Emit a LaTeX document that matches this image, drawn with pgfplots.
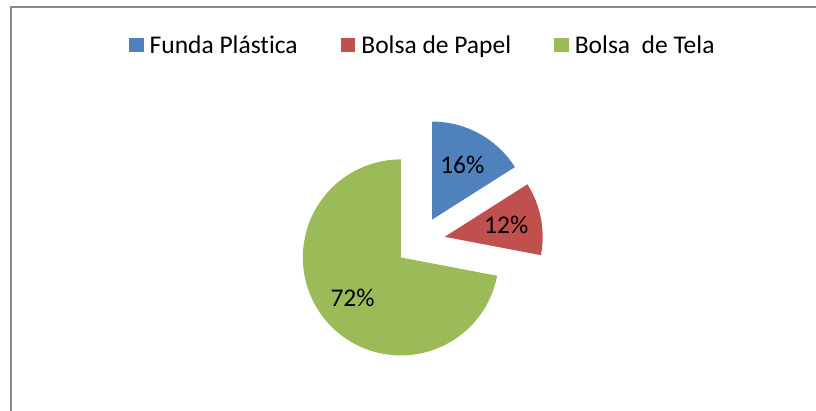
\documentclass[border=0pt]{standalone}
\usepackage{pgfplots}
\pgfplotsset{compat=1.18}
\usepackage{pgfplotstable}
\usepackage{fontspec}
\setmainfont{Carlito}[Ligatures={NoCommon}]
\definecolor{cBlue}{HTML}{4F81BD}
\definecolor{cRed}{HTML}{C0504D}
\definecolor{cGreen}{HTML}{9BBB59}
\definecolor{cFrame}{HTML}{8A8A8A}

\pgfplotstableread{
value
16
12
72
}\pietable

\begin{document}
\begin{tikzpicture}
\def\Cx{420.1}\def\Cy{168.5}\def\R{98}\def\E{25}\def\L{62.7}
\pgfplotstablegetelem{0}{value}\of\pietable \let\vA\pgfplotsretval
\pgfplotstablegetelem{1}{value}\of\pietable \let\vB\pgfplotsretval
\pgfplotstablegetelem{2}{value}\of\pietable \let\vC\pgfplotsretval
\pgfmathsetmacro\tot{\vA+\vB+\vC}
\pgfmathsetmacro\aA{90}
\pgfmathsetmacro\aB{\aA-360*(\vA/\tot)}
\pgfmathsetmacro\aC{\aB-360*(\vB/\tot)}
\pgfmathsetmacro\aD{\aC-360*(\vC/\tot)}
\pgfmathsetmacro\mA{(\aA+\aB)/2}
\pgfmathsetmacro\mB{(\aB+\aC)/2}
\pgfmathsetmacro\mC{(\aC+\aD)/2}
\pgfmathsetmacro\xA{\Cx+\E*cos(\mA)}\pgfmathsetmacro\yA{\Cy+\E*sin(\mA)}
\pgfmathsetmacro\xB{\Cx+\E*cos(\mB)}\pgfmathsetmacro\yB{\Cy+\E*sin(\mB)}
\pgfmathsetmacro\xC{\Cx+\E*cos(\mC)}\pgfmathsetmacro\yC{\Cy+\E*sin(\mC)}
\pgfmathsetmacro\lxA{\xA+\L*cos(\mA)}\pgfmathsetmacro\lyA{\yA+\L*sin(\mA)}
\pgfmathsetmacro\lxB{\xB+\L*cos(\mB)}\pgfmathsetmacro\lyB{\yB+\L*sin(\mB)}
\pgfmathsetmacro\lxC{\xC+\L*cos(\mC)}\pgfmathsetmacro\lyC{\yC+\L*sin(\mC)}
\pgfmathtruncatemacro\pA{round(100*(\vA/\tot))}
\pgfmathtruncatemacro\pB{round(100*(\vB/\tot))}
\pgfmathtruncatemacro\pC{round(100*(\vC/\tot))}
\begin{axis}[
  at={(0,0)}, anchor=south west,
  scale only axis, width=816pt, height=410pt,
  xmin=0, xmax=816, ymin=0, ymax=410,
  hide axis,
  legend columns=3,
  legend image code/.code={\fill[#1,draw=none] (0pt,-7pt) rectangle (14.5pt,7pt); \path (20.5pt,0pt);},
  legend style={at={(0.1581,0.89)}, anchor=west, draw=none, fill=none,
    inner sep=0pt, outer sep=0pt,
    nodes={inner sep=0pt, outer sep=0pt},
    font=\fontsize{25.5}{30}\selectfont,
    /tikz/every even column/.append style={column sep=43pt}},
]
\addlegendimage{fill=cBlue}
\addlegendentry{Funda Plástica}
\addlegendimage{fill=cRed}
\addlegendentry{Bolsa de Papel}
\addlegendimage{fill=cGreen}
\addlegendentry{Bolsa\ \ de Tela}

\fill[cBlue] (axis cs:\xA,\yA) -- ++(\aA:\R pt) arc[start angle=\aA, end angle=\aB, radius=\R pt] -- cycle;
\fill[cRed] (axis cs:\xB,\yB) -- ++(\aB:\R pt) arc[start angle=\aB, end angle=\aC, radius=\R pt] -- cycle;
\fill[cGreen] (axis cs:\xC,\yC) -- ++(\aC:\R pt) arc[start angle=\aC, end angle=\aD, radius=\R pt] -- cycle;

\node[font=\fontsize{25.5}{30}\selectfont] at (axis cs:\lxA,\lyA) {\pA\%};
\node[font=\fontsize{25.5}{30}\selectfont] at (axis cs:\lxB,\lyB) {\pB\%};
\node[font=\fontsize{25.5}{30}\selectfont] at (axis cs:\lxC,\lyC) {\pC\%};

\draw[cFrame, line width=2pt] (axis cs:11.3,-10) -- (axis cs:11.3,403) -- (axis cs:830,403);
\end{axis}
\pgfresetboundingbox
\useasboundingbox (0,0) rectangle (816pt,410pt);
\end{tikzpicture}
\end{document}
